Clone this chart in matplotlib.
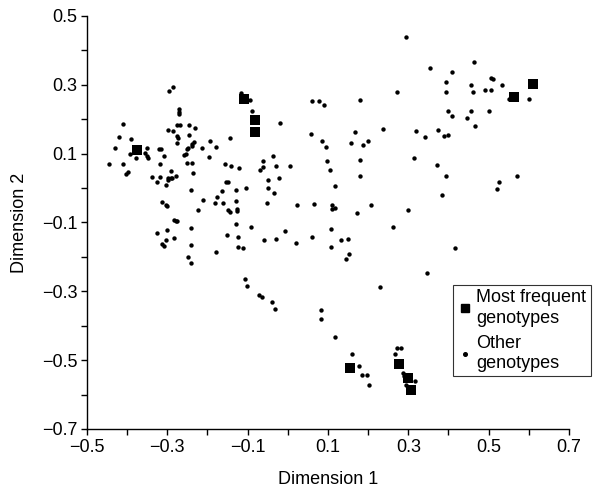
import matplotlib
matplotlib.use("Agg")
import matplotlib.pyplot as plt
from matplotlib.ticker import FixedLocator
from matplotlib.lines import Line2D

plt.rcParams['font.family'] = ['Liberation Sans', 'DejaVu Sans']

# most frequent genotypes (squares)
freq_x = [-0.376, -0.108, -0.081, -0.081, 0.563, 0.610, 0.155, 0.277, 0.300, 0.307]
freq_y = [0.111, 0.258, 0.198, 0.164, 0.264, 0.302, -0.522, -0.511, -0.553, -0.587]

# other genotypes (dots)
other_x = [
    -0.296, -0.286, -0.270, -0.270, -0.270, -0.410, -0.276, -0.268, -0.247, -0.232,
    -0.298, -0.285, -0.420, -0.391, -0.276, -0.273, -0.247, -0.144, -0.193, -0.234,
    -0.238, -0.239, -0.276, -0.430, -0.351, -0.320, -0.316, -0.248, -0.250, -0.214,
    -0.179, -0.356, -0.351, -0.349, -0.392, -0.254, -0.258, -0.377, -0.308, -0.196,
    -0.444, -0.411, -0.317, -0.250, -0.238, -0.157, -0.142, -0.397, -0.402, -0.290,
    -0.235, -0.339, -0.318, -0.298, -0.292, -0.288, -0.278, -0.326, -0.303, -0.298,
    -0.240, -0.212, -0.224, -0.155, -0.148, -0.164, -0.176, -0.181, -0.162, -0.149,
    -0.144, -0.130, -0.130, -0.130, -0.313, -0.303, -0.302, -0.283, -0.279, -0.277,
    -0.326, -0.301, -0.242, -0.283, -0.303, -0.313, -0.308, -0.151, -0.240, -0.180,
    -0.248, -0.242,
    0.294, -0.117, -0.093, -0.088, -0.020, 0.061, 0.077, 0.089, 0.180, 0.273,
    0.058, 0.167, 0.236, 0.084, 0.094, 0.157, 0.188, 0.200, -0.037, -0.063,
    -0.063, -0.070, -0.030, 0.005, -0.122, 0.097, 0.104, 0.180, 0.180, -0.023,
    -0.049,
    -0.103, -0.050, -0.034, 0.117, -0.053, 0.024, 0.066, 0.111, 0.117, 0.109,
    0.208, 0.173, -0.126, -0.126, -0.091, -0.007, -0.123, -0.060, -0.030, 0.020,
    0.061, 0.107, 0.132, 0.150, 0.261, -0.123, -0.111, 0.107, 0.153, 0.145,
    -0.106, -0.101, -0.073, -0.065, -0.039, -0.032, 0.082, 0.082, 0.230,
    0.117, 0.160, 0.178, 0.185, 0.196, 0.203, 0.272, 0.282, 0.268, 0.287,
    0.289, 0.317, 0.294,
    0.355, 0.463, 0.408, 0.393, 0.393, 0.456, 0.461, 0.506, 0.512, 0.491,
    0.505, 0.534, 0.551, 0.601, 0.398, 0.408, 0.456, 0.502, 0.446, 0.466,
    0.319, 0.375, 0.342, 0.390, 0.400, 0.314, 0.372, 0.395, 0.570, 0.527,
    0.521, 0.383, 0.299, 0.416, 0.347,
]
other_y = [
    0.282, 0.293, 0.229, 0.222, 0.215, 0.186, 0.184, 0.184, 0.183, 0.175,
    0.169, 0.167, 0.148, 0.143, 0.151, 0.146, 0.153, 0.146, 0.137, 0.134,
    0.127, 0.122, 0.131, 0.116, 0.116, 0.114, 0.113, 0.117, 0.113, 0.116,
    0.119, 0.101, 0.093, 0.087, 0.098, 0.099, 0.097, 0.087, 0.092, 0.089,
    0.071, 0.071, 0.069, 0.072, 0.074, 0.069, 0.065, 0.048, 0.041, 0.051,
    0.045, 0.032, 0.031, 0.030, 0.030, 0.029, 0.036, 0.018, 0.010, 0.024,
    -0.006, -0.035, -0.065, 0.018, 0.018, -0.008, -0.025, -0.044, -0.044, -0.065,
    -0.069, -0.006, -0.039, -0.103, -0.040, -0.050, -0.052, -0.092, -0.095, -0.096,
    -0.130, -0.122, -0.115, -0.145, -0.151, -0.162, -0.168, -0.135, -0.165, -0.185,
    -0.201, -0.218,
    0.438, 0.275, 0.255, 0.225, 0.190, 0.252, 0.252, 0.241, 0.255, 0.278,
    0.157, 0.163, 0.172, 0.137, 0.119, 0.131, 0.124, 0.137, 0.092, 0.080,
    0.062, 0.052, 0.065, 0.065, 0.058, 0.078, 0.052, 0.081, 0.036, 0.030,
    0.024,
    0.000, 0.000, -0.014, 0.007, -0.044, -0.049, -0.046, -0.049, -0.058, -0.062,
    -0.049, -0.073, -0.062, -0.067, -0.114, -0.124, -0.141, -0.150, -0.147, -0.159,
    -0.141, -0.118, -0.150, -0.147, -0.114, -0.170, -0.174, -0.171, -0.191, -0.206,
    -0.265, -0.284, -0.310, -0.316, -0.330, -0.351, -0.354, -0.379, -0.288,
    -0.433, -0.483, -0.517, -0.543, -0.543, -0.572, -0.465, -0.465, -0.481, -0.538,
    -0.546, -0.560, -0.572,
    0.350, 0.367, 0.338, 0.308, 0.278, 0.300, 0.278, 0.321, 0.316, 0.284,
    0.284, 0.300, 0.258, 0.258, 0.223, 0.210, 0.225, 0.223, 0.205, 0.180,
    0.167, 0.170, 0.148, 0.151, 0.154, 0.087, 0.066, 0.036, 0.036, 0.019,
    -0.002, -0.020, -0.065, -0.174, -0.248,
]

xticks = [-0.5, -0.3, -0.1, 0.1, 0.3, 0.5, 0.7]
yticks = [-0.7, -0.5, -0.3, -0.1, 0.1, 0.3, 0.5]

fig = plt.figure(figsize=(5.93, 4.99), dpi=100)
ax = fig.add_axes([0.1467, 0.1403, 0.8128, 0.8277])

ax.scatter(other_x, other_y, s=10, marker='o', color='black', linewidths=0, zorder=2)
ax.scatter(freq_x, freq_y, s=62, marker='s', color='black', linewidths=0, zorder=3)

ax.set_xlim(-0.5, 0.7)
ax.set_ylim(-0.7, 0.5)
ax.xaxis.set_major_locator(FixedLocator(xticks))
ax.yaxis.set_major_locator(FixedLocator(yticks))
ax.xaxis.set_minor_locator(FixedLocator([-0.4, -0.2, 0.0, 0.2, 0.4, 0.6]))
ax.yaxis.set_minor_locator(FixedLocator([-0.6, -0.4, -0.2, 0.0, 0.2, 0.4]))
ax.set_xticklabels([f"{t:.1f}".replace('-', '\u2212') for t in xticks])
ax.set_yticklabels([f"{t:.1f}".replace('-', '\u2212') for t in yticks])

for side in ['top', 'right']:
    ax.spines[side].set_visible(False)
for side in ['left', 'bottom']:
    ax.spines[side].set_linewidth(1.0)
ax.tick_params(which='both', direction='out', length=4, width=1.0, labelsize=13, pad=3)

ax.set_xlabel('Dimension 1', fontsize=13, labelpad=11)
ax.set_ylabel('Dimension 2', fontsize=13, labelpad=10)

handles = [
    Line2D([], [], marker='s', color='black', linestyle='none', markersize=5.5),
    Line2D([], [], marker='o', color='black', linestyle='none', markersize=2.6),
]
labels = ['Most frequent\ngenotypes', 'Other\ngenotypes']
leg = ax.legend(handles, labels, loc='upper left', bbox_to_anchor=(0.759, 0.349),
                fontsize=13, frameon=True, fancybox=False, borderpad=0.25,
                labelspacing=0.45, handletextpad=0.25, handlelength=0.8,
                borderaxespad=0)
leg.get_frame().set_edgecolor('black')
leg.get_frame().set_linewidth(0.8)
for t in leg.get_texts():
    t.set_linespacing(1.25)

fig.savefig('out.png', dpi=100)
